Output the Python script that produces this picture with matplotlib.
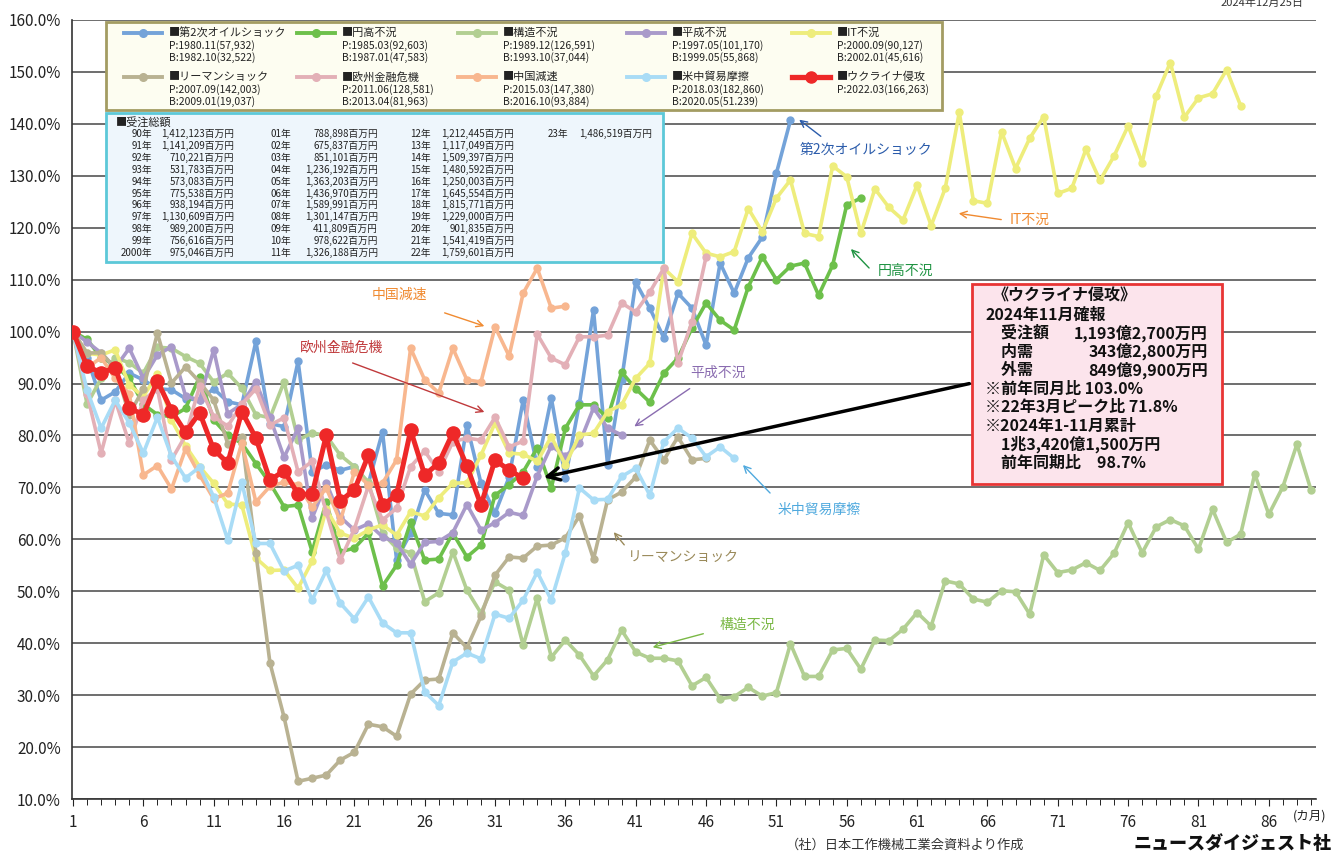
import matplotlib
matplotlib.use('Agg')
import matplotlib.pyplot as plt
from matplotlib.patches import Rectangle, FancyArrowPatch
from matplotlib.lines import Line2D
from matplotlib.ticker import MultipleLocator, FuncFormatter

plt.rcParams['font.family'] = ['Noto Sans CJK JP', 'DejaVu Sans']

# 各不況期のピーク比 (%)
oil_shock = [100, 95, 86.8, 88.4, 92, 90.7, 89, 88.8, 87.1, 86.8, 89, 86.5, 85.9, 98.1, 82.3, 81.7,
             94.3, 73, 74.3, 73.3, 74, 70.8, 80.7, 56.1, 61.2, 69.5, 65, 64.7, 82, 70.8, 65, 72,
             86.8, 74, 87.2, 71.8, 86.2, 104.1, 74.3, 90.7, 109.5, 104.5, 98.8, 107.4, 104.5, 97.4,
             113.2, 107.4, 114.2, 118.2, 130.5, 140.7]
yen_high = [100, 98.5, 95, 93.5, 91, 86, 84, 83.6, 85.2, 91.3, 83, 80, 78.5, 74.6, 70.8, 66.3,
            66.6, 57.6, 67.2, 57.6, 58.3, 61.2, 51.0, 55, 63.3, 56, 56.2, 61.2, 56.6, 58.9, 68.5,
            70.5, 73, 77.6, 69.9, 81.4, 85.9, 85.9, 83.4, 92.2, 89, 86.4, 92, 94.9, 100.7, 105.5,
            102.2, 100.3, 108.6, 114.4, 110, 112.6, 113.2, 107, 112.8, 124.4, 125.7]
structural = [100, 86, 91, 95, 94, 92, 97, 96.8, 95.2, 93.9, 90.3, 92, 89.1, 84, 83.4, 90.3,
              79.1, 80.5, 80, 76.2, 74, 71, 61.2, 58.3, 57.4, 48, 49.7, 57.6, 50.2, 45.8, 51.8,
              50.2, 39.6, 48.7, 37.3, 40.6, 37.7, 33.7, 36.8, 42.5, 38.3, 37.1, 37.1, 36.6, 31.8,
              33.4, 29.3, 29.7, 31.5, 29.8, 30.5, 39.9, 33.6, 33.6, 38.7, 39.0, 35.0, 40.6, 40.5,
              42.7, 45.9, 43.3, 52.0, 51.4, 48.5, 47.9, 50.1, 49.9, 45.6, 57.0, 53.6, 54.1, 55.5,
              54.0, 57.3, 63.2, 57.4, 62.4, 63.8, 62.6, 58.1, 65.8, 59.4, 61.0, 72.6, 64.8, 70.1,
              78.3, 69.5]
heisei = [100, 98, 95.9, 93, 96.8, 91, 95.5, 97.1, 87.6, 86.8, 96.5, 84.2, 86, 90.3, 83.5, 75.8,
          81.4, 64.1, 70.9, 64.3, 61.8, 63, 60.5, 59.3, 55.2, 59.4, 59.6, 61.3, 66.7, 61.8, 63.2,
          65.2, 64.6, 72.2, 78, 76, 78.5, 85.3, 81.4, 80.1]
it_slump = [100, 95.8, 95.5, 96.5, 89.7, 87.5, 91.8, 83, 78, 74, 70.8, 66.8, 66.6, 56.4, 54, 54.1,
            50.6, 55.8, 65.8, 61.2, 60.2, 61.8, 62.8, 60.8, 65.3, 64.5, 68, 70.8, 70.9, 76.2, 82.4,
            76.6, 76.4, 75, 79.8, 74.3, 80.1, 80.4, 84.6, 85.9, 91, 93.9, 112.2, 109.6, 118.9,
            115.1, 114.4, 115.4, 123.7, 119.2, 125.7, 129.2, 118.9, 118.3, 131.9, 129.8, 118.9,
            127.5, 123.9, 121.5, 128.2, 120.4, 127.6, 142.2, 125.2, 124.7, 138.5, 131.4, 137.2,
            141.4, 126.6, 127.6, 135.1, 129.1, 133.8, 139.6, 132.5, 145.4, 151.8, 141.3, 145.0,
            145.8, 150.4, 143.5]
lehman = [100, 95.9, 95.9, 93, 84, 89, 99.7, 90.1, 93.2, 90.3, 86.8, 78.4, 79.7, 57.4, 36.2, 25.8,
          13.4, 14.0, 14.6, 17.5, 19.0, 24.4, 23.9, 22.1, 30.2, 32.9, 33.1, 42.0, 39.1, 45.2, 53.1,
          56.6, 56.4, 58.7, 58.9, 60.3, 64.5, 56.2, 67.6, 69.1, 72, 79.1, 75.3, 79.7, 75.3, 75.6]
euro_crisis = [100, 88, 76.6, 86.8, 78.5, 86.8, 89, 75.3, 80, 89.5, 83.6, 81.8, 86, 89, 82, 83.4,
               73, 75, 65.3, 56, 62, 70.3, 63.7, 66, 74, 77, 73, 78.8, 79.5, 79.1, 83.5, 77.8,
               78.9, 99.5, 94.9, 93.6, 99, 99, 99.3, 105.5, 103.8, 107.6, 112.2, 93.9, 101.9, 114.4]
china_slow = [100, 93, 95, 91, 88, 72.4, 74.2, 69.7, 77.4, 72.4, 67.8, 68.9, 78.6, 67.2, 70.2, 71,
              70.5, 66.2, 69.9, 63.5, 73, 70.5, 70.8, 75.3, 96.8, 90.7, 88.2, 96.8, 90.7, 90.3,
              100.9, 95.3, 107.4, 112.2, 104.5, 104.9]
trade_war = [100, 88.7, 81.4, 86.8, 82.4, 76.6, 83.5, 76, 71.8, 73.9, 68.2, 59.9, 71, 59.2, 59.2,
             53.9, 55, 48.3, 54, 47.7, 44.7, 48.9, 43.9, 42, 42, 30.6, 28.0, 36.4, 38.1, 37, 45.6,
             44.8, 48.3, 53.7, 48.3, 57.4, 69.9, 67.6, 67.7, 72.1, 73.7, 68.5, 78.8, 81.4, 79.5,
             75.9, 77.8, 75.6]
ukraine = [100, 93.3, 92.1, 93, 85.3, 84, 90.5, 84.8, 80.6, 84.4, 77.3, 74.7, 84.6, 79.5, 71.4,
           73.2, 68.7, 68.7, 80, 67.4, 69.5, 76.2, 66.6, 68.5, 81, 72.4, 74.7, 80.5, 74.1, 66.6,
           75.3, 73.3, 71.8]

series_names = ['第2次オイルショック', '円高不況', '構造不況', '平成不況', 'IT不況',
                'リーマンショック', '欧州金融危機', '中国減速', '米中貿易摩擦', 'ウクライナ侵攻']
peak_labels = ['P:1980.11(57,932)', 'P:1985.03(92,603)', 'P:1989.12(126,591)', 'P:1997.05(101,170)',
               'P:2000.09(90,127)', 'P:2007.09(142,003)', 'P:2011.06(128,581)', 'P:2015.03(147,380)',
               'P:2018.03(182,860)', 'P:2022.03(166,263)']
bottom_labels = ['B:1982.10(32,522)', 'B:1987.01(47,583)', 'B:1993.10(37,044)', 'B:1999.05(55,868)',
                 'B:2002.01(45,616)', 'B:2009.01(19,037)', 'B:2013.04(81,963)', 'B:2016.10(93,884)',
                 'B:2020.05(51.239)', '']
colors = ['#74a3d9', '#6dc04b', '#b2cf92', '#a99aca', '#eeed7c',
          '#b9b292', '#e3b0b7', '#f8b78f', '#a9dcf6', '#ee2828']

# 受注総額 (百万円)
order_years = ['90年', '91年', '92年', '93年', '94年', '95年', '96年', '97年', '98年', '99年', '2000年',
               '01年', '02年', '03年', '04年', '05年', '06年', '07年', '08年', '09年', '10年', '11年',
               '12年', '13年', '14年', '15年', '16年', '17年', '18年', '19年', '20年', '21年', '22年',
               '23年']
order_totals = ['1,412,123', '1,141,209', '710,221', '531,783', '573,083', '775,538', '938,194',
                '1,130,609', '989,200', '756,616', '975,046',
                '788,898', '675,837', '851,101', '1,236,192', '1,363,203', '1,436,970', '1,589,991',
                '1,301,147', '411,809', '978,622', '1,326,188',
                '1,212,445', '1,117,049', '1,509,397', '1,480,592', '1,250,003', '1,645,554',
                '1,815,771', '1,229,000', '901,835', '1,541,419', '1,759,601',
                '1,486,519']

# 説明ボックス: (左側の文字, 右寄せの数値)
box_lines = [('《ウクライナ侵攻》', ''), ('2024年11月確報', ''), ('　受注額', '1,193億2,700万円'),
             ('　内需', '343億2,800万円'), ('　外需', '849億9,900万円'), ('※前年同月比 103.0%', ''),
             ('※22年3月ピーク比 71.8%', ''), ('※2024年1-11月累計', ''), ('　1兆3,420億1,500万円', ''),
             ('　前年同期比　98.7%', '')]

W, H = 1343, 855


def fx(x):
    return x / W


def fy(y):
    return 1 - y / H


fig = plt.figure(figsize=(W / 100, H / 100), dpi=100)
ax = fig.add_axes([fx(72), fy(799), fx(1316) - fx(72), fy(20) - fy(799)])

all_series = [oil_shock, yen_high, structural, heisei, it_slump, lehman,
              euro_crisis, china_slow, trade_war, ukraine]
draw_order = [2, 5, 8, 4, 3, 7, 6, 1, 0, 9]
for i in draw_order:
    vals = all_series[i]
    months = list(range(1, len(vals) + 1))
    if i == 9:
        ax.plot(months, vals, '-o', color=colors[i], lw=3.6, ms=9.5, zorder=10)
    else:
        ax.plot(months, vals, '-o', color=colors[i], lw=2.6, ms=5, zorder=3 + i * 0.1)

ax.set_xlim(1 - 1 / 14.07, 89 + 5 / 14.07)
ax.set_ylim(10, 160)
ax.set_yticks(range(10, 161, 10))
ax.yaxis.set_major_formatter(FuncFormatter(lambda v, p: f'{v:.1f}%'))
ax.set_xticks(range(1, 87, 5))
ax.xaxis.set_minor_locator(MultipleLocator(1))
ax.tick_params(axis='both', labelsize=11, colors='#222222')
ax.tick_params(axis='x', which='major', length=5, pad=6)
ax.tick_params(axis='x', which='minor', length=4)
ax.tick_params(axis='y', length=0, pad=8)
ax.grid(axis='y', color='#555555', lw=1.2)
ax.set_axisbelow(True)
for s in ['top', 'right']:
    ax.spines[s].set_visible(False)
for s in ['left', 'bottom']:
    ax.spines[s].set_color('#333333')
    ax.spines[s].set_linewidth(1.2)

fig.text(fx(1310), fy(816), '(カ月)', fontsize=9, ha='center', va='center', color='#222222')

# 凡例
fig.add_artist(Rectangle((fx(106), fy(110)), fx(942) - fx(106), fy(22) - fy(110),
                         transform=fig.transFigure, facecolor='#fdfdf1', edgecolor='#a39c62',
                         lw=2, zorder=5))
col_x = [124, 297, 458, 627, 792]
row_y = [33, 77]
for i, name in enumerate(series_names):
    x0 = col_x[i % 5]
    y0 = row_y[i // 5]
    lw, ms = (3.8, 8) if i == 9 else (2.8, 5.5)
    fig.add_artist(Line2D([fx(x0), fx(x0 + 38)], [fy(y0), fy(y0)], transform=fig.transFigure,
                          color=colors[i], lw=lw, zorder=6))
    fig.add_artist(Line2D([fx(x0 + 19)], [fy(y0)], transform=fig.transFigure, marker='o',
                          color=colors[i], ms=ms, zorder=6))
    fig.text(fx(x0 + 45), fy(y0), '■' + name, fontsize=8, va='center', color='#222222', zorder=7)
    fig.text(fx(x0 + 45), fy(y0 + 13), peak_labels[i], fontsize=7.5, va='center', color='#222222', zorder=7)
    if bottom_labels[i]:
        fig.text(fx(x0 + 45), fy(y0 + 25), bottom_labels[i], fontsize=7.5, va='center',
                 color='#222222', zorder=7)

# 受注総額の表
fig.add_artist(Rectangle((fx(106), fy(262)), fx(663) - fx(106), fy(113) - fy(262),
                         transform=fig.transFigure, facecolor='#eef6fc', edgecolor='#5cc8d8',
                         lw=2, zorder=5))
fig.text(fx(116), fy(122), '■受注総額', fontsize=8, va='center', color='#222222', zorder=7)
year_right = [152, 291, 431, 568]
val_right = [234, 378, 514, 652]
for k, (yr, tot) in enumerate(zip(order_years, order_totals)):
    col = k // 11
    row = k % 11
    yy = 134 + row * 11.9
    fig.text(fx(year_right[col]), fy(yy), yr, fontsize=7, ha='right', va='center', color='#222222', zorder=7)
    fig.text(fx(val_right[col]), fy(yy), tot + '百万円', fontsize=7, ha='right', va='center',
             color='#222222', zorder=7)

# ウクライナ侵攻の説明
fig.add_artist(Rectangle((fx(972), fy(484)), fx(1222) - fx(972), fy(284) - fy(484),
                         transform=fig.transFigure, facecolor='#fce4ec', edgecolor='#e83434',
                         lw=2, zorder=5))
for k, (left, right) in enumerate(box_lines):
    yy = 296 + k * 18.5
    x_left = 993 if k == 0 else 985
    fig.text(fx(x_left), fy(yy), left, fontsize=11.5, fontweight='bold', va='center',
             color='#111111', zorder=7)
    if right:
        fig.text(fx(1208), fy(yy), right, fontsize=11.5, fontweight='bold', ha='right',
                 va='center', color='#111111', zorder=7)


def arrow(x1, y1, x2, y2, color, lw=1.0, scale=12):
    fig.add_artist(FancyArrowPatch((fx(x1), fy(y1)), (fx(x2), fy(y2)), transform=fig.transFigure,
                                   arrowstyle='->', mutation_scale=scale, lw=lw, color=color,
                                   zorder=8))


arrow(972, 383, 541, 478, '#000000', lw=2.5, scale=22)

labels = [
    ('第2次オイルショック', 800, 150, '#2b5cab', (823, 138, 797, 118)),
    ('IT不況', 1010, 220, '#f08a30', (1004, 220, 956, 213)),
    ('円高不況', 878, 271, '#1f9342', (871, 270, 849, 247)),
    ('中国減速', 372, 295, '#f08a30', (442, 312, 487, 327)),
    ('欧州金融危機', 300, 348, '#c0393b', (350, 362, 487, 413)),
    ('平成不況', 690, 373, '#8a6cb0', (692, 387, 632, 428)),
    ('米中貿易摩擦', 778, 510, '#4fa9de', (772, 495, 741, 463)),
    ('リーマンショック', 628, 557, '#9a8a5a', (626, 547, 612, 530)),
    ('構造不況', 720, 625, '#7ab845', (706, 633, 650, 648)),
]
for text, tx, ty, c, a in labels:
    fig.text(fx(tx), fy(ty), text, fontsize=10, va='center', color=c, zorder=7)
    arrow(a[0], a[1], a[2], a[3], c)

fig.text(fx(1262), fy(3), '2024年12月25日', fontsize=8, ha='center', va='center', color='#333333')
fig.text(fx(905), fy(845), '（社）日本工作機械工業会資料より作成', fontsize=9.5, ha='center',
         va='center', color='#333333')
fig.text(fx(1233), fy(843), 'ニュースダイジェスト社', fontsize=13, fontweight='heavy',
         ha='center', va='center', color='#111111')

fig.savefig('out.png', dpi=100)
